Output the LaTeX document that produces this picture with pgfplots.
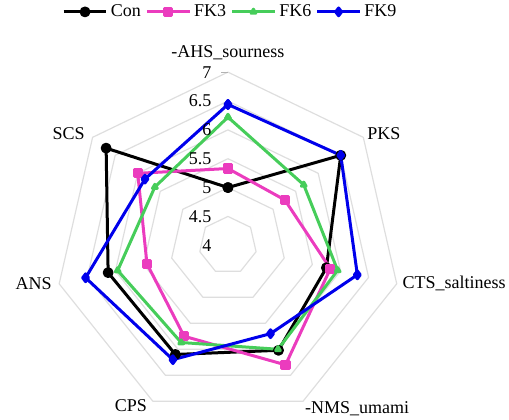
\documentclass[border=0pt]{standalone}
\usepackage{pgfplots}
\pgfplotsset{compat=1.18}
\usepackage{pgfplotstable}
\usepackage{fontspec}
\setmainfont{Liberation Serif}

\definecolor{conc}{RGB}{0,0,0}
\definecolor{fkthree}{RGB}{235,60,190}
\definecolor{fksix}{RGB}{70,205,90}
\definecolor{fknine}{RGB}{0,0,235}
\definecolor{gridc}{RGB}{222,222,222}

% angle clockwise from top, sensory scores (centre of chart = 4)
\pgfplotstableread{
ang     Con   FK3   FK6   FK9
0       5.00  5.33  6.22  6.44
51.43   6.50  5.26  5.68  6.50
102.86  5.75  5.82  5.95  6.30
154.29  6.02  6.30  6.00  5.70
205.71  6.10  5.75  5.87  6.20
257.14  6.13  5.44  5.96  6.53
308.57  6.70  6.00  5.62  5.84
360     5.00  5.33  6.22  6.44
}\radar

\begin{document}
\begin{tikzpicture}[font=\fontsize{12}{14}\selectfont]
\begin{axis}[
  scale only axis,
  x=38.47pt, y=38.47pt,
  xmin=-3.95, xmax=4.87,
  ymin=-3.02, ymax=4.25,
  hide axis,
  clip=false,
  line join=round,
  legend columns=4,
  legend style={draw=none, fill=none, at={(axis cs:0.05,4.25)}, anchor=north,
    font=\fontsize{12}{14}\selectfont, inner sep=1pt,
    /tikz/every even column/.append style={column sep=1pt}},
  legend image code/.code={
    \draw[mark repeat=2,mark phase=2] plot coordinates {(0cm,0cm) (0.5cm,0cm) (1cm,0cm)};},
]
% grid heptagons
\addplot[gridc, line width=0.8pt, forget plot]
  table[x expr={0.5*sin(\thisrow{ang})}, y expr={0.5*cos(\thisrow{ang})}] {\radar};
\addplot[gridc, line width=0.8pt, forget plot]
  table[x expr={1.0*sin(\thisrow{ang})}, y expr={1.0*cos(\thisrow{ang})}] {\radar};
\addplot[gridc, line width=0.8pt, forget plot]
  table[x expr={1.5*sin(\thisrow{ang})}, y expr={1.5*cos(\thisrow{ang})}] {\radar};
\addplot[gridc, line width=0.8pt, forget plot]
  table[x expr={2.0*sin(\thisrow{ang})}, y expr={2.0*cos(\thisrow{ang})}] {\radar};
\addplot[gridc, line width=0.8pt, forget plot]
  table[x expr={2.5*sin(\thisrow{ang})}, y expr={2.5*cos(\thisrow{ang})}] {\radar};
\addplot[gridc, line width=0.8pt, forget plot]
  table[x expr={3.0*sin(\thisrow{ang})}, y expr={3.0*cos(\thisrow{ang})}] {\radar};

\addplot[conc, line width=2pt, mark=*, mark size=2.6pt]
  table[x expr={(\thisrow{Con}-4)*sin(\thisrow{ang})}, y expr={(\thisrow{Con}-4)*cos(\thisrow{ang})}] {\radar};
\addplot[fkthree, line width=2pt, mark=square*, mark size=2.4pt]
  table[x expr={(\thisrow{FK3}-4)*sin(\thisrow{ang})}, y expr={(\thisrow{FK3}-4)*cos(\thisrow{ang})}] {\radar};
\addplot[fksix, line width=2pt, mark=triangle*, mark size=1.8pt]
  table[x expr={(\thisrow{FK6}-4)*sin(\thisrow{ang})}, y expr={(\thisrow{FK6}-4)*cos(\thisrow{ang})}] {\radar};
\addplot[fknine, line width=2pt, mark=diamond*, mark size=2.6pt]
  table[x expr={(\thisrow{FK9}-4)*sin(\thisrow{ang})}, y expr={(\thisrow{FK9}-4)*cos(\thisrow{ang})}] {\radar};
\legend{Con, FK3, FK6, FK9}

% radial tick labels
\node[anchor=east, inner sep=0pt] at (axis cs:-0.28,0) {4};
\node[anchor=east, inner sep=0pt] at (axis cs:-0.28,0.5) {4.5};
\node[anchor=east, inner sep=0pt] at (axis cs:-0.28,1) {5};
\node[anchor=east, inner sep=0pt] at (axis cs:-0.28,1.5) {5.5};
\node[anchor=east, inner sep=0pt] at (axis cs:-0.28,2) {6};
\node[anchor=east, inner sep=0pt] at (axis cs:-0.28,2.5) {6.5};
\node[anchor=east, inner sep=0pt] at (axis cs:-0.28,3) {7};
\draw[gray!60, line width=0.5pt] (axis cs:-0.12,3) -- (axis cs:0,3);

% category labels
\node[anchor=south, inner sep=0pt] at (axis cs:0,3.2) {-AHS\_sourness};
\node[anchor=west, inner sep=0pt] at (axis cs:2.41,1.94) {PKS};
\node[anchor=west, inner sep=0pt] at (axis cs:3.02,-0.66) {CTS\_saltiness};
\node[anchor=west, inner sep=0pt] at (axis cs:1.33,-2.83) {-NMS\_umami};
\node[anchor=east, inner sep=0pt] at (axis cs:-1.40,-2.77) {CPS};
\node[anchor=east, inner sep=0pt] at (axis cs:-3.05,-0.66) {ANS};
\node[anchor=east, inner sep=0pt] at (axis cs:-2.48,1.94) {SCS};
\end{axis}
\pgfresetboundingbox
\path[use as bounding box] (current axis.south west) rectangle (current axis.north east);
\end{tikzpicture}
\end{document}
